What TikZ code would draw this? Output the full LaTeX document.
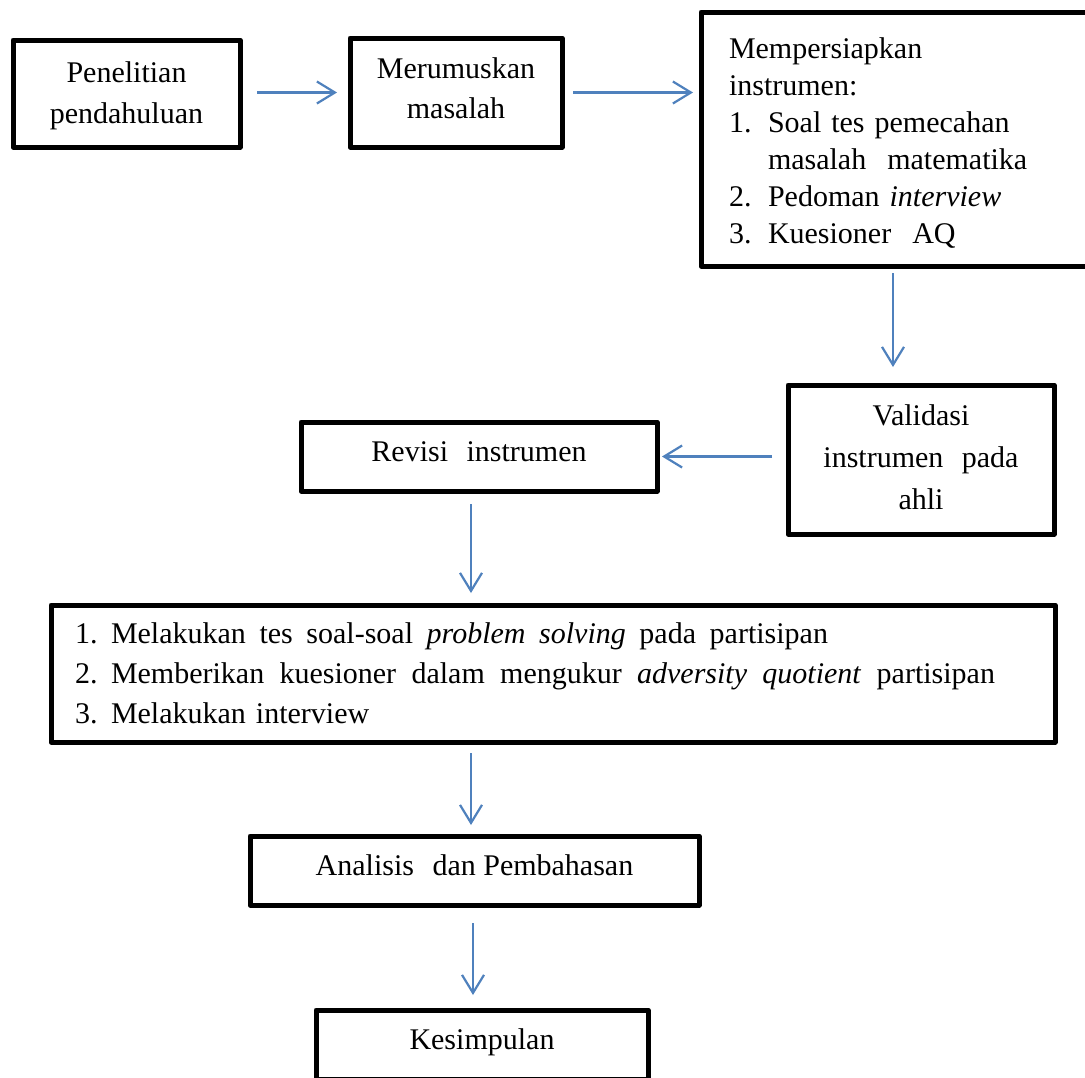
\documentclass[tikz,border=0pt]{standalone}
\usepackage{fontspec}
\setmainfont{Liberation Serif}
\usetikzlibrary{arrows.meta}
\definecolor{arrowblue}{RGB}{79,129,189}
\newcommand\wsp{\hspace{11pt}}
\newcommand\spreadline[2]{\makebox[#1][s]{\spaceskip=7.5pt plus 20pt\relax #2}}
\begin{document}
\begin{tikzpicture}[x=1pt,y=-1pt,
  box/.style={draw=black, line width=5pt, line join=round, rectangle, outer sep=0pt, inner sep=0pt},
  arr/.style={draw=arrowblue, line width=2.2pt, -{Straight Barb[length=18pt,width=22pt]}},
  single/.style={text height=21pt, text depth=11pt, font=\fontsize{30}{40}\selectfont}
]
\fill[white] (0,0) rectangle (1085,1077);
\useasboundingbox (0,0) rectangle (1085,1077);

\node[box, minimum width=227, minimum height=107, align=center, font=\fontsize{30}{41}\selectfont] (b1) at (126.5,93.5) {\rule{0pt}{26pt}Penelitian\\pendahuluan};
\node[box, minimum width=212, minimum height=109, align=center, font=\fontsize{30}{40}\selectfont] (b2) at (456,92.5) {Merumuskan\\masalah\rule[-8pt]{0pt}{8pt}};
\node[box, minimum width=399, minimum height=254, text width=343pt, align=left, font=\fontsize{30}{37}\selectfont] (b3) at (900.5,139)
 {\rule{0pt}{29pt}Mempersiapkan\\instrumen:\\\makebox[39pt][l]{1.}Soal tes pemecahan\\\hspace*{39pt}masalah\wsp{} matematika\\\makebox[39pt][l]{2.}Pedoman \textit{interview}\\\makebox[39pt][l]{3.}Kuesioner\wsp{} AQ};
\node[box, minimum width=266, minimum height=149, align=center, font=\fontsize{30}{42}\selectfont] (b4) at (921,459.5) {Validasi\\instrumen\wsp{} pada\\ahli\rule[-4pt]{0pt}{4pt}};
\node[box, single, minimum width=356, minimum height=69] (b5) at (479,456.5) {Revisi\wsp{} instrumen};
\node[box, minimum width=1004, minimum height=137, text width=956pt, align=left, font=\fontsize{30}{40}\selectfont] (b6) at (553,673.5)
 {\makebox[36pt][l]{1.}\spreadline{717pt}{Melakukan tes soal-soal \textit{problem solving} pada partisipan}\\\makebox[36pt][l]{2.}\spreadline{884pt}{Memberikan kuesioner dalam mengukur \textit{adversity quotient} partisipan}\\\makebox[36pt][l]{3.}Melakukan interview};
\node[box, single, minimum width=449, minimum height=69] (b7) at (474.5,870.5) {Analisis\wsp{} dan Pembahasan};
\node[box, single, minimum width=332, minimum height=69] (b8) at (482,1044.5) {Kesimpulan};

\draw[arr, shorten <=17pt, shorten >=13pt] (b1.east |- b2.west) -- (b2.west);
\draw[arr, shorten <=11pt, shorten >=8pt] (b2.east) -- (b2.east -| b3.west);
\draw[arr, shorten <=7pt, shorten >=18pt] ([xshift=-7.5pt]b3.south) -- ([xshift=-28pt]b4.north);
\draw[arr, shorten <=16pt, shorten >=5pt] (b4.west |- b5.east) -- (b5.east);
\draw[arr, shorten <=13pt, shorten >=12pt] ([xshift=-8pt]b5.south) -- ([xshift=-82pt]b6.north);
\draw[arr, shorten <=11pt, shorten >=11pt] ([xshift=-82pt]b6.south) -- ([xshift=-3.5pt]b7.north);
\draw[arr, shorten <=18pt, shorten >=15pt] ([xshift=-1.5pt]b7.south) -- ([xshift=-9pt]b8.north);
\end{tikzpicture}
\end{document}
